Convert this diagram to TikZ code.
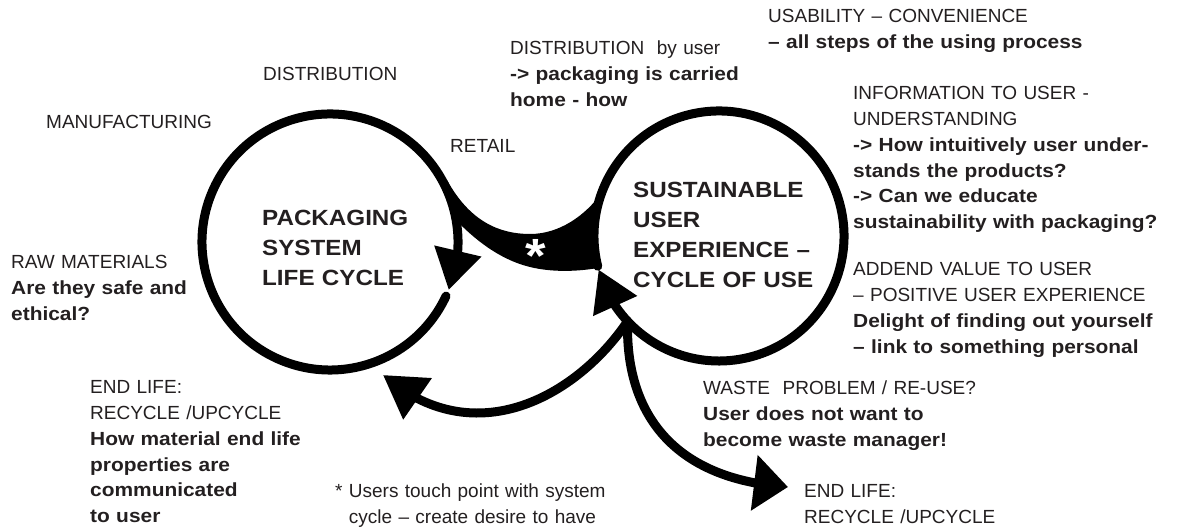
\documentclass[tikz,border=0pt]{standalone}
\usepackage{fontspec}
\setmainfont{Liberation Sans}[BoldFeatures={FakeStretch=1.1}]
\usetikzlibrary{arrows.meta, bending}
\definecolor{ink}{RGB}{35,31,32}
\tikzset{ring/.style = {circle, minimum size=#1, inner sep=0pt, outer sep=0pt}}
\tikzset{title/.style = {anchor=base west, inner sep=0pt, align=left, text width=200pt, text=ink, font=\fontsize{22}{30}\selectfont\bfseries}}
\tikzset{note/.style = {anchor=base west, inner sep=0pt, align=left, text width=330pt, text=ink, font=\fontsize{19}{25.7}\selectfont}}
\tikzset{flow/.style = {line width=9pt, line cap=round}}
\tikzset{tipped/.style 2 args = {-{Triangle[length=#1, width=#2, flex]}}}

\begin{document}
\begin{tikzpicture}[x=1pt, y=1pt]
	\useasboundingbox (0,0) rectangle (1178,529);
	% Packaging cycle
	\node[ring=256pt] (pack) at (330,287) {};
	\node[title] (packtxt) at (262,303) {PACKAGING\\SYSTEM\\LIFE CYCLE};
	% User cycle
	\node[ring=250pt] (usr) at (719,293) {};
	\node[title] (usrtxt) at (633,331) {SUSTAINABLE\\USER\\EXPERIENCE –\\CYCLE OF USE};
	% Touch point
	\fill (447,349) .. controls (470,307) and (500,295) .. (530,295)
		.. controls (560,295) and (585,314) .. (600,334)
		-- (594,293) -- (598,261)
		.. controls (575,257) and (550,257) .. (530,262)
		.. controls (505,268) and (480,284) .. (457,308) -- cycle;
	\node[text=white, font=\fontsize{48}{48}\selectfont\bfseries] (star) at (536,273) {*};
	% Cycles
	\draw[flow, tipped={40pt}{46pt}] (pack.-25) arc[start angle=-25, end angle=-382, radius=128];
	\draw[flow, tipped={40pt}{46pt}] (usr.-166) arc[start angle=-166, end angle=-524.4, radius=125];
	% End life flows
	\draw[flow, tipped={42pt}{48pt}] (usr.223) .. controls (578,134) and (475,74) .. (383,154);
	\draw[flow, tipped={34pt}{54pt}] (usr.223) .. controls (625,109) and (680,49) .. (788,42);

	% Packaging system notes
	\node[note] (dist) at (263,448) {DISTRIBUTION};
	\node[note] (manu) at (46,400) {MANUFACTURING};
	\node[note] (retail) at (450,376) {RETAIL};
	\node[note] (raw) at (11,260) {RAW MATERIALS\\\textbf{Are they safe and}\\\textbf{ethical?}};
	\node[note] (endl) at (90,135) {END LIFE:\\RECYCLE /UPCYCLE\\\textbf{How material end life}\\\textbf{properties are}\\\textbf{communicated}\\\textbf{to user}};
	% User notes
	\node[note] (byuser) at (510,474) {DISTRIBUTION\ \ by user\\\textbf{-> packaging is carried}\\\textbf{home - how}};
	\node[note] (usab) at (768,506) {USABILITY – CONVENIENCE\\\textbf{– all steps of the using process}};
	\node[note] (info) at (853,429) {INFORMATION TO USER -\\UNDERSTANDING\\\textbf{-> How intuitively user under-}\\\textbf{stands the products?}\\\textbf{-> Can we educate}\\\textbf{sustainability with packaging?}};
	\node[note] (value) at (853,253) {ADDEND VALUE TO USER\\– POSITIVE USER EXPERIENCE\\\textbf{Delight of finding out yourself}\\\textbf{– link to something personal}};
	\node[note] (waste) at (703,134) {WASTE\ \ PROBLEM / RE-USE?\\\textbf{User does not want to}\\\textbf{become waste manager!}};
	\node[note] (endr) at (804,31) {END LIFE:\\RECYCLE /UPCYCLE};
	% Footnote
	\node[note] (touch) at (335,31) {* Users touch point with system\\\hphantom{*\ }cycle – create desire to have};
\end{tikzpicture}
\end{document}
